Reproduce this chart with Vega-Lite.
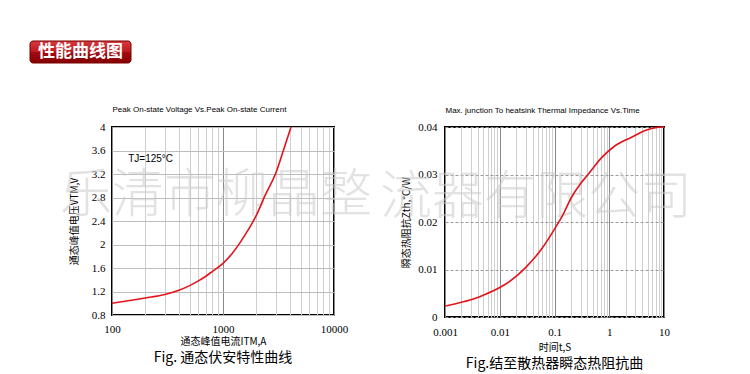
{
  "$schema": "https://vega.github.io/schema/vega-lite/v6.json",
  "background": "white",
  "padding": {"left": 29, "top": 40, "right": 5, "bottom": 0},
  "spacing": 40,
  "config": {
    "view": {"stroke": null},
    "font": "Noto Sans CJK SC",
    "axis": {
      "labelFont": "Liberation Serif",
      "labelFontSize": 11,
      "labelColor": "#000",
      "titleFont": "Noto Sans CJK SC",
      "titleFontSize": 10,
      "titleFontWeight": "normal",
      "titleColor": "#000",
      "ticks": false,
      "domain": false
    }
  },
  "vconcat": [
    {
      "width": 101,
      "height": 22,
      "data": {"values": [{"label": "性能曲线图"}]},
      "layer": [
        {
          "mark": {
            "type": "rect",
            "cornerRadius": 3,
            "stroke": "#7a0000",
            "strokeWidth": 1,
            "fill": {
              "gradient": "linear",
              "x1": 0, "y1": 0, "x2": 0, "y2": 1,
              "stops": [
                {"offset": 0, "color": "#d8393e"},
                {"offset": 0.5, "color": "#bb1a20"},
                {"offset": 0.52, "color": "#a00c12"},
                {"offset": 1, "color": "#850000"}
              ]
            }
          },
          "encoding": {}
        },
        {
          "mark": {"type": "text", "color": "white", "fontSize": 17, "fontWeight": "bold", "font": "Noto Sans CJK SC"},
          "encoding": {"text": {"field": "label"}}
        }
      ]
    },
    {
      "spacing": 6,
      "hconcat": [
        {
          "width": 22,
          "height": 1,
          "data": {"values": [{"label": ""}]},
          "mark": {"type": "rect", "opacity": 0},
          "encoding": {}
        },
        {
          "width": 222,
          "height": 188,
          "view": {"stroke": "#000", "strokeWidth": 2},
          "title": {"text": "Fig. 通态伏安特性曲线", "orient": "bottom", "anchor": "middle", "font": "Noto Sans CJK SC", "fontSize": 14, "fontWeight": "normal", "color": "#000", "offset": 5},
          "layer": [
            {
              "data": {"values": [{"text": "乐清市柳晶整"}]},
              "mark": {"type": "text", "align": "left", "baseline": "middle", "fontSize": 52, "font": "Noto Sans CJK SC", "fontWeight": 300, "color": "#cccccc", "opacity": 0.55},
              "encoding": {
                "x": {"datum": 34, "type": "quantitative", "scale": {"type": "log", "domain": [100, 10000]}, "axis": null},
                "y": {"datum": 2.82, "type": "quantitative", "scale": {"domain": [0.8, 4]}, "axis": null},
                "text": {"field": "text"}
              }
            },
            {
              "data": {"values": [
                {"current": 100, "voltage": 1.0},
                {"current": 150, "voltage": 1.05},
                {"current": 200, "voltage": 1.09},
                {"current": 300, "voltage": 1.15},
                {"current": 400, "voltage": 1.22},
                {"current": 500, "voltage": 1.3},
                {"current": 600, "voltage": 1.38},
                {"current": 700, "voltage": 1.46},
                {"current": 800, "voltage": 1.54},
                {"current": 1000, "voltage": 1.68},
                {"current": 1200, "voltage": 1.84},
                {"current": 1400, "voltage": 2.01},
                {"current": 1600, "voltage": 2.18},
                {"current": 1800, "voltage": 2.34},
                {"current": 2000, "voltage": 2.5},
                {"current": 2400, "voltage": 2.84},
                {"current": 3000, "voltage": 3.22},
                {"current": 3500, "voltage": 3.6},
                {"current": 4100, "voltage": 4.0}
              ]},
              "mark": {"type": "line", "color": "#e3131b", "strokeWidth": 1.6, "interpolate": "monotone"},
              "encoding": {
                "x": {
                  "field": "current", "type": "quantitative",
                  "scale": {"type": "log", "domain": [100, 10000]},
                  "axis": {
                    "orient": "bottom",
                    "values": [100, 200, 300, 400, 500, 600, 700, 800, 900, 1000, 2000, 3000, 4000, 5000, 6000, 7000, 8000, 9000, 10000],
                    "format": "d",
                    "labelExpr": "abs(log(datum.value)/LN10 - round(log(datum.value)/LN10)) < 0.001 ? datum.label : ''",
                    "labelPadding": 8,
                    "labelFlush": false,
                    "labelOverlap": false,
                    "title": "通态峰值电流ITM,A",
                    "titlePadding": 2,
                    "grid": true,
                    "gridColor": {"condition": {"test": "abs(log(datum.value)/LN10 - round(log(datum.value)/LN10)) < 0.001", "value": "#8a8a8a"}, "value": "#cfcfcf"},
                    "gridWidth": 1
                  }
                },
                "y": {
                  "field": "voltage", "type": "quantitative",
                  "scale": {"domain": [0.8, 4]},
                  "axis": {
                    "orient": "left",
                    "values": [0.8, 1.2, 1.6, 2, 2.4, 2.8, 3.2, 3.6, 4],
                    "format": "~g",
                    "labelPadding": 7,
                    "title": "通态峰值电压VTM,V",
                    "titlePadding": 12,
                    "grid": true,
                    "gridColor": "#bdbdbd"
                  }
                }
              }
            },
            {
              "data": {"values": [{"note": "TJ=125°C"}]},
              "mark": {"type": "text", "align": "left", "baseline": "middle", "font": "Liberation Sans", "fontSize": 10, "color": "#000"},
              "encoding": {
                "x": {
                  "datum": 140, "type": "quantitative",
                  "scale": {"type": "log", "domain": [100, 10000]},
                  "axis": {"orient": "top", "title": "Peak On-state Voltage Vs.Peak On-state Current", "labels": false, "grid": false, "titleFont": "Liberation Sans", "titleFontSize": 8, "titleAnchor": "start", "titlePadding": 14}
                },
                "y": {"datum": 3.455, "type": "quantitative", "scale": {"domain": [0.8, 4]}, "axis": null},
                "text": {"field": "note"}
              }
            }
          ],
          "resolve": {"axis": {"x": "independent", "y": "independent"}}
        },
        {
          "width": 219,
          "height": 190,
          "view": {"stroke": "#000", "strokeWidth": 2},
          "title": {"text": "Fig.结至散热器瞬态热阻抗曲", "orient": "bottom", "anchor": "middle", "font": "Noto Sans CJK SC", "fontSize": 14, "fontWeight": "normal", "color": "#000", "offset": 5},
          "layer": [
            {
              "data": {"values": [{"text": "流器有限公司"}]},
              "mark": {"type": "text", "align": "left", "baseline": "middle", "fontSize": 52, "font": "Noto Sans CJK SC", "fontWeight": 300, "color": "#cccccc", "opacity": 0.55},
              "encoding": {
                "x": {
                  "datum": 0.000065, "type": "quantitative",
                  "scale": {"type": "log", "domain": [0.001, 10]},
                  "axis": {"orient": "top", "title": "Max. junction To heatsink Thermal Impedance Vs.Time", "labels": false, "grid": false, "titleFont": "Liberation Sans", "titleFontSize": 8, "titleAnchor": "start", "titlePadding": 13}
                },
                "y": {"datum": 0.025, "type": "quantitative", "scale": {"domain": [0, 0.04]}, "axis": null},
                "text": {"field": "text"}
              }
            },
            {
              "data": {"values": [
                {"time": 0.001, "z": 0.0023},
                {"time": 0.002, "z": 0.0031},
                {"time": 0.0035, "z": 0.0039},
                {"time": 0.005, "z": 0.0046},
                {"time": 0.01, "z": 0.0062},
                {"time": 0.0165, "z": 0.0078},
                {"time": 0.029, "z": 0.0103},
                {"time": 0.058, "z": 0.0143},
                {"time": 0.1, "z": 0.0185},
                {"time": 0.144, "z": 0.0216},
                {"time": 0.2, "z": 0.025},
                {"time": 0.3, "z": 0.0281},
                {"time": 0.41, "z": 0.03},
                {"time": 0.72, "z": 0.0335},
                {"time": 1.26, "z": 0.036},
                {"time": 2.5, "z": 0.0378},
                {"time": 5, "z": 0.0394},
                {"time": 9, "z": 0.04},
                {"time": 10, "z": 0.04}
              ]},
              "mark": {"type": "line", "color": "#e3131b", "strokeWidth": 1.6, "interpolate": "monotone"},
              "encoding": {
                "x": {
                  "field": "time", "type": "quantitative",
                  "scale": {"type": "log", "domain": [0.001, 10]},
                  "axis": {
                    "orient": "bottom",
                    "values": [0.001, 0.002, 0.003, 0.004, 0.005, 0.006, 0.007, 0.008, 0.009, 0.01, 0.02, 0.03, 0.04, 0.05, 0.06, 0.07, 0.08, 0.09, 0.1, 0.2, 0.3, 0.4, 0.5, 0.6, 0.7, 0.8, 0.9, 1, 2, 3, 4, 5, 6, 7, 8, 9, 10],
                    "format": "~g",
                    "labelExpr": "abs(log(datum.value)/LN10 - round(log(datum.value)/LN10)) < 0.001 ? datum.label : ''",
                    "labelPadding": 9,
                    "labelFlush": false,
                    "labelOverlap": false,
                    "title": "时间t,S",
                    "titlePadding": 5,
                    "grid": true,
                    "gridColor": {"condition": {"test": "abs(log(datum.value)/LN10 - round(log(datum.value)/LN10)) < 0.001", "value": "#8a8a8a"}, "value": "#cfcfcf"},
                    "gridWidth": 1
                  }
                },
                "y": {
                  "field": "z", "type": "quantitative",
                  "scale": {"domain": [0, 0.04]},
                  "axis": {
                    "orient": "left",
                    "values": [0, 0.01, 0.02, 0.03, 0.04],
                    "format": "~g",
                    "labelPadding": 8,
                    "title": "瞬态热阻抗Zth,°C/W",
                    "titlePadding": 6,
                    "grid": true,
                    "gridColor": "#9a9a9a",
                    "gridDash": [3, 2]
                  }
                }
              }
            }
          ],
          "resolve": {"axis": {"x": "independent", "y": "independent"}}
        }
      ]
    }
  ]
}
